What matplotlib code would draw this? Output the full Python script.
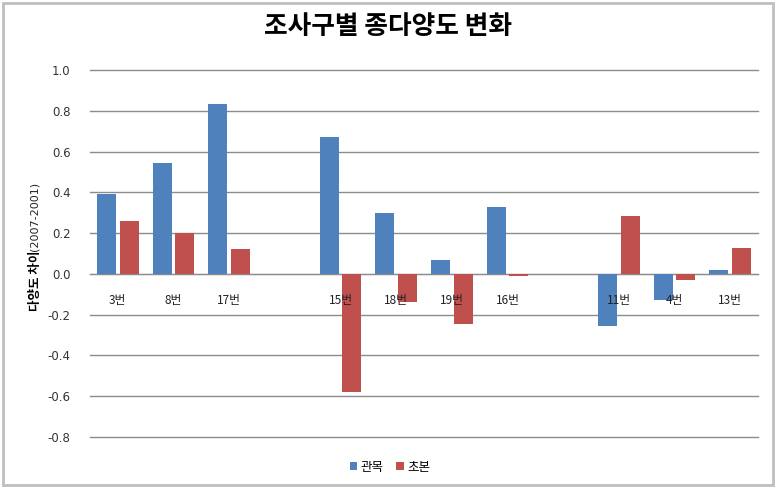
import matplotlib.pyplot as plt
import numpy as np
from matplotlib.patches import Rectangle

plt.rcParams['font.family'] = ['Noto Sans CJK KR', 'DejaVu Sans']

categories = ['3번', '8번', '17번', '', '15번', '18번', '19번', '16번', '', '11번', '4번', '13번']
shrub = [0.39, 0.545, 0.835, np.nan, 0.67, 0.30, 0.07, 0.33, np.nan, -0.255, -0.13, 0.02]
herb = [0.26, 0.20, 0.12, np.nan, -0.58, -0.14, -0.245, -0.01, np.nan, 0.285, -0.03, 0.125]
series_names = ['관목', '초본']
yticks = [-0.8, -0.6, -0.4, -0.2, 0.0, 0.2, 0.4, 0.6, 0.8, 1.0]

fig = plt.figure(figsize=(7.77, 4.88), dpi=100)
ax = fig.add_axes([90 / 777, 1 - 437 / 488, 668 / 777, 367 / 488])

x = np.arange(len(categories))
w = 0.34
ax.bar(x - 0.205, shrub, w, color='#4F81BD', label=series_names[0], zorder=3)
ax.bar(x + 0.205, herb, w, color='#C0504D', label=series_names[1], zorder=3)

ax.set_xlim(-0.5, len(categories) - 0.5)
ax.set_ylim(-0.8, 1.0)
ax.set_yticks(yticks)
ax.set_yticklabels([f'{v:.1f}' for v in yticks], fontsize=8.5, color='#333333', family='DejaVu Sans')
ax.yaxis.grid(True, color='#8c8c8c', linewidth=1, zorder=0)
for gl in ax.get_ygridlines():
    gl.set_clip_on(False)
ax.tick_params(axis='y', length=0, pad=14)

for s in ['left', 'right', 'top']:
    ax.spines[s].set_visible(False)
ax.spines['bottom'].set_position(('data', 0))
ax.spines['bottom'].set_color('#8c8c8c')
ax.set_xticks([])

# category labels sit just under the zero line, drawn over the bars
for xi, name in zip(x, categories):
    ax.annotate(name, (xi, 0), xytext=(0, -19), textcoords='offset points',
                ha='center', va='center', fontsize=8.5, color='#222222', zorder=5)

bold = fig.text(35 / 777, 1 - 311 / 488, '다양도 차이', rotation=90, ha='center', va='bottom',
                fontsize=9, fontweight='bold')
fig.canvas.draw()
bb = bold.get_window_extent().transformed(fig.transFigure.inverted())
fig.text(35 / 777, bb.y1, '(2007-2001)', rotation=90, ha='center', va='bottom',
         fontsize=8, family='DejaVu Sans', color='#222222')

fig.text(0.5, 1 - 27 / 488, '조사구별 종다양도 변화', ha='center', va='center',
         fontsize=18.5, fontweight='bold')

ax.legend(loc='center', bbox_to_anchor=(390 / 777, 1 - 467 / 488), bbox_transform=fig.transFigure,
          ncol=2, frameon=False, fontsize=9, handlelength=0.6, handleheight=0.6,
          handletextpad=0.3, columnspacing=1.0)

fig.patches.append(Rectangle((3 / 777, 3 / 488), 770 / 777, 482 / 488, transform=fig.transFigure,
                             fill=False, edgecolor='#bfbfbf', linewidth=2))

fig.savefig('out.png', dpi=100, facecolor='white')
